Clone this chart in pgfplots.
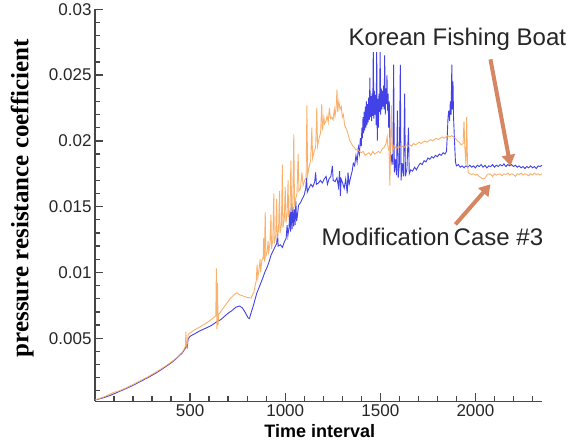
\documentclass[border=0pt]{standalone}
\usepackage{pgfplots}
\pgfplotsset{compat=1.18}
\usepackage{fontspec}
\setmainfont{Liberation Sans}
\newfontfamily\labserif{Liberation Serif}
\usetikzlibrary{arrows.meta}
\definecolor{kfb}{RGB}{45,45,228}
\definecolor{mod}{RGB}{250,168,92}
\definecolor{arr}{RGB}{214,134,98}
\definecolor{spine}{RGB}{70,70,70}
\begin{document}
\begin{tikzpicture}
\begin{axis}[
  scale only axis, width=447pt, height=392pt,
  xmin=0, xmax=2350, ymin=0.0002, ymax=0.03,
  axis x line*=bottom, axis y line*=left,
  axis line style={spine, line width=1.6pt},
  tick align=inside,
  xtick={500,1000,1500,2000}, xticklabels={500,1000,1500,2000},
  minor xtick={100,200,300,400,600,700,800,900,1100,1200,1300,1400,1600,1700,1800,1900,2100,2200,2300},
  ytick={0.005,0.01,0.015,0.02,0.025,0.03},
  yticklabels={0.005,0.01,0.015,0.02,0.025,0.03},
  minor ytick={0.001,0.002,0.003,0.004,0.006,0.007,0.008,0.009,0.011,0.012,0.013,0.014,0.016,0.017,0.018,0.019,0.021,0.022,0.023,0.024,0.026,0.027,0.028,0.029},
  scaled x ticks=false, scaled y ticks=false,
  major tick length=8pt, minor tick length=5pt,
  every tick/.style={spine, line width=1.3pt},
  tick label style={font=\fontsize{17}{20}\selectfont, text=black!85},
  xlabel={\textbf{Time interval}},
  xlabel style={font=\fontsize{18}{21}\selectfont, at={(axis description cs:0.503,-0.077)}, anchor=center},
  ylabel={\labserif\bfseries pressure resistance coefficient},
  ylabel style={font=\fontsize{25}{28}\selectfont, at={(axis description cs:-0.163,0.518)}, anchor=center},
  clip mode=individual,
]
\addplot[kfb, line width=0.9pt, opacity=0.9] coordinates {
(0,0.00030)(40,0.00045)(80,0.00065)(120,0.00090)(160,0.00115)(200,0.00142)(240,0.00172)(280,0.00202)(320,0.00235)(360,0.00272)(400,0.00312)(430,0.00348)(460,0.00390)(475,0.00425)(480,0.00445)(484,0.00430)(490,0.00495)(500,0.00515)(520,0.00530)(550,0.00555)(580,0.00575)(610,0.00595)(640,0.00625)(660,0.00640)(680,0.00665)(700,0.00690)(720,0.00710)(740,0.00735)(760,0.00745)(775,0.00730)(790,0.00695)(805,0.00655)(812,0.00650)(820,0.00690)(835,0.00760)(850,0.00840)(865,0.00895)(880,0.00950)(895,0.01010)(905,0.01040)(915,0.01080)(925,0.01130)(935,0.01160)(945,0.01190)(955,0.01220)(960,0.01290)(963,0.01200)(975,0.01210)(985,0.01190)(995,0.01230)(1005,0.01260)(1010,0.01360)(1014,0.01280)(1020,0.01340)(1024,0.01460)(1028,0.01310)(1032,0.01520)(1036,0.01330)(1040,0.01500)(1044,0.01350)(1048,0.01480)(1052,0.01360)(1056,0.01540)(1060,0.01390)(1064,0.01430)(1070,0.01510)(1080,0.01530)(1090,0.01560)(1100,0.01590)(1108,0.01640)(1112,0.01720)(1116,0.01610)(1125,0.01640)(1135,0.01670)(1145,0.01650)(1155,0.01690)(1160,0.01760)(1164,0.01670)(1175,0.01680)(1185,0.01700)(1195,0.01680)(1205,0.01710)(1215,0.01730)(1222,0.01670)(1230,0.01710)(1240,0.01730)(1248,0.01810)(1252,0.01700)(1262,0.01690)(1272,0.01720)(1280,0.01650)(1286,0.01770)(1290,0.01580)(1294,0.01710)(1302,0.01680)(1310,0.01640)(1318,0.01710)(1326,0.01600)(1330,0.01760)(1336,0.01670)(1345,0.01730)(1352,0.01770)(1358,0.01830)(1365,0.01810)(1372,0.01890)(1378,0.01840)(1385,0.01950)(1390,0.01900)(1395,0.02020)
(1400,0.01960)(1403,0.02100)(1406,0.02020)(1409,0.02180)(1412,0.02060)(1415,0.02220)(1418,0.02080)(1421,0.02260)(1424,0.02100)(1427,0.02300)(1430,0.02120)(1433,0.02280)(1436,0.02140)(1439,0.02330)(1442,0.02160)(1445,0.02480)(1448,0.02180)(1451,0.02340)(1454,0.02150)(1457,0.02360)(1460,0.02190)(1463,0.02700)(1466,0.02170)(1469,0.02380)(1472,0.02200)(1475,0.02350)(1478,0.02120)(1481,0.02700)(1484,0.02000)(1487,0.02320)(1490,0.02100)(1493,0.02360)(1496,0.02220)(1499,0.02700)(1502,0.02200)(1505,0.02400)(1508,0.02240)(1511,0.02380)(1514,0.02260)(1517,0.02420)(1520,0.02240)(1523,0.02650)(1526,0.02200)(1529,0.02400)(1532,0.02280)(1535,0.02500)(1538,0.02230)(1541,0.02360)(1544,0.02100)(1547,0.02300)
(1552,0.01920)(1557,0.01840)(1562,0.01900)(1566,0.01820)(1570,0.02580)(1574,0.01760)(1580,0.01860)(1585,0.01740)(1590,0.02230)(1594,0.01720)(1600,0.01820)(1605,0.02580)(1609,0.01700)(1615,0.01830)(1622,0.01730)(1628,0.02360)(1632,0.01730)(1640,0.01790)(1648,0.02100)(1652,0.01750)(1660,0.01780)(1670,0.01770)(1680,0.01800)(1690,0.01780)(1700,0.01810)(1710,0.01830)(1720,0.01820)(1730,0.01850)(1740,0.01840)(1750,0.01870)(1760,0.01860)(1770,0.01880)(1780,0.01870)(1790,0.01890)(1800,0.01880)(1810,0.01900)(1820,0.01890)(1830,0.01910)(1840,0.01900)(1848,0.01920)(1852,0.02040)(1856,0.02180)(1860,0.02230)(1864,0.02150)(1868,0.02300)(1872,0.02200)(1876,0.02580)(1879,0.02240)(1882,0.02450)(1885,0.02180)(1890,0.02000)(1895,0.01840)(1900,0.01810)(1910,0.01820)(1920,0.01800)(1930,0.01810)(1940,0.01795)(1950,0.01810)(1960,0.01800)(1970,0.01815)(1980,0.01800)(1990,0.01810)(2000,0.01795)(2010,0.01815)(2020,0.01805)(2030,0.01820)(2040,0.01800)(2050,0.01815)(2060,0.01795)(2070,0.01810)(2080,0.01805)(2090,0.01820)(2100,0.01800)(2110,0.01815)(2120,0.01805)(2130,0.01820)(2140,0.01810)(2150,0.01825)(2160,0.01805)(2170,0.01820)(2180,0.01810)(2190,0.01820)(2200,0.01805)(2210,0.01815)(2220,0.01800)(2230,0.01810)(2240,0.01795)(2250,0.01805)(2260,0.01790)(2270,0.01805)(2280,0.01795)(2290,0.01810)(2300,0.01795)(2310,0.01805)(2320,0.01790)(2330,0.01810)(2340,0.01805)(2350,0.01815)
};
\addplot[mod, line width=0.9pt, opacity=0.9] coordinates {
(0,0.00030)(40,0.00050)(80,0.00075)(100,0.00090)(120,0.00095)(160,0.00120)(200,0.00148)(240,0.00178)(280,0.00208)(320,0.00242)(360,0.00278)(400,0.00318)(430,0.00352)(460,0.00395)(475,0.00435)(478,0.00550)(481,0.00440)(486,0.00460)(490,0.00530)(500,0.00540)(520,0.00560)(550,0.00585)(580,0.00610)(610,0.00640)(635,0.00670)(638,0.01030)(641,0.00570)(644,0.00920)(647,0.00600)(650,0.00680)(670,0.00720)(690,0.00760)(710,0.00800)(730,0.00830)(745,0.00845)(760,0.00830)(780,0.00820)(800,0.00810)(820,0.00805)(835,0.00850)(848,0.00940)(852,0.01060)(856,0.00960)(862,0.01020)(868,0.01100)(871,0.01000)(877,0.01090)(884,0.01110)(887,0.01260)(890,0.01080)(895,0.01460)(898,0.01120)(905,0.01160)(910,0.01240)(913,0.01140)(920,0.01230)(925,0.01440)(928,0.01180)(935,0.01250)(940,0.01600)(943,0.01220)(950,0.01280)(955,0.01560)(958,0.01260)(965,0.01320)(970,0.01620)(973,0.01300)(980,0.01360)(985,0.01820)(988,0.01340)(995,0.01400)(1000,0.01650)(1004,0.01380)(1010,0.01440)(1015,0.01700)(1018,0.01420)(1025,0.01480)(1030,0.01850)(1034,0.01460)(1040,0.01520)(1045,0.02050)(1049,0.01500)(1055,0.01560)(1062,0.01600)(1068,0.01900)(1072,0.01620)(1080,0.01640)(1088,0.01760)(1094,0.01660)(1102,0.01700)(1110,0.01720)(1114,0.02270)(1118,0.01740)(1126,0.01800)(1134,0.01860)(1140,0.02100)(1144,0.01870)(1152,0.01920)(1160,0.01950)(1166,0.02250)(1170,0.01960)(1178,0.02020)(1186,0.02060)(1192,0.02280)(1196,0.02080)(1203,0.02180)(1207,0.02130)(1214,0.02150)(1220,0.02190)(1226,0.02140)(1232,0.02250)(1238,0.02170)(1245,0.02180)(1252,0.02160)(1258,0.02240)(1262,0.02190)(1268,0.02260)(1272,0.02390)(1276,0.02220)(1282,0.02300)(1288,0.02240)(1295,0.02260)(1300,0.02180)(1306,0.02200)(1312,0.02120)(1318,0.02100)(1325,0.02080)(1332,0.02040)(1340,0.02000)(1348,0.01980)(1356,0.01960)(1364,0.01950)(1372,0.01930)(1380,0.01940)(1390,0.01920)(1400,0.01910)(1410,0.01920)(1420,0.01890)(1430,0.01900)(1440,0.01910)(1450,0.01890)(1460,0.01920)(1470,0.01900)(1480,0.01910)(1490,0.01920)(1500,0.01910)(1510,0.01940)(1520,0.01950)(1530,0.01980)(1536,0.02030)(1540,0.01960)(1546,0.01920)(1550,0.01660)(1554,0.01940)(1558,0.02270)(1562,0.01970)(1566,0.01930)(1575,0.01960)(1585,0.01940)(1595,0.01960)(1605,0.01950)(1615,0.01960)(1625,0.01950)(1635,0.01970)(1645,0.01960)(1655,0.01970)(1665,0.01960)(1675,0.01980)(1685,0.01970)(1695,0.01980)(1705,0.01990)(1715,0.01980)(1725,0.01990)(1735,0.02000)(1745,0.01990)(1755,0.02000)(1765,0.02010)(1775,0.02000)(1785,0.02010)(1795,0.02020)(1805,0.02010)(1815,0.02020)(1825,0.02030)(1835,0.02020)(1845,0.02030)(1855,0.02040)(1865,0.02030)(1875,0.02040)(1885,0.02030)(1895,0.02020)(1905,0.02000)(1915,0.01990)(1925,0.01970)(1935,0.01980)(1940,0.02150)(1944,0.01960)(1950,0.01820)(1954,0.02180)(1958,0.01850)(1962,0.01760)(1970,0.01750)(1980,0.01745)(1990,0.01750)(2000,0.01740)(2010,0.01745)(2020,0.01730)(2030,0.01720)(2040,0.01710)(2050,0.01715)(2060,0.01740)(2070,0.01750)(2080,0.01745)(2090,0.01730)(2100,0.01750)(2110,0.01740)(2120,0.01745)(2130,0.01750)(2140,0.01735)(2150,0.01750)(2160,0.01745)(2170,0.01755)(2180,0.01740)(2190,0.01750)(2200,0.01745)(2210,0.01730)(2220,0.01750)(2230,0.01745)(2240,0.01755)(2250,0.01740)(2260,0.01750)(2270,0.01745)(2280,0.01735)(2290,0.01750)(2300,0.01740)(2310,0.01755)(2320,0.01745)(2330,0.01750)(2340,0.01740)(2350,0.01750)
};
\draw[arr, line width=4pt, -{Triangle[width=13pt,length=11pt]}] (axis cs:2079,0.0262) -- (axis cs:2184,0.0181);
\draw[arr, line width=4pt, -{Triangle[width=13pt,length=11pt]}] (axis cs:1895,0.01365) -- (axis cs:2079,0.01670);
\node[font=\fontsize{24}{28}\selectfont, text=black!85, fill=white, inner sep=1pt] at (axis cs:1905,0.0277) {Korean Fishing Boat};
\node[font=\fontsize{24}{28}\selectfont, text=black!85, fill=white, inner sep=1pt] at (axis cs:1774,0.01267) {Modification\,Case \#3};
\end{axis}
\path (current axis.south west) ++(-95pt,-45pt) rectangle ++(581pt,438pt);
\end{tikzpicture}
\end{document}
